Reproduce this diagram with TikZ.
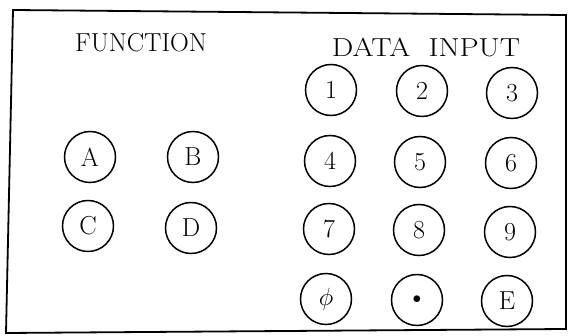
\documentclass[tikz,border=0pt]{standalone}
\usepackage{graphicx}
\begin{document}
\begin{tikzpicture}[x=1pt,y=-1pt,
  key/.style={draw, circle, line width=1.5pt, minimum size=51pt, inner sep=0pt,
    font=\fontsize{26}{29}\selectfont},
  heading/.style={font=\fontsize{26}{29}\selectfont, inner sep=0pt, anchor=base}]
\useasboundingbox (0,0) rectangle (568,336);
\draw[line width=1.8pt] (13,10) -- (566,15) -- (566,329) -- (6,333) -- cycle;
\node[heading] (fn) at (141,52) {FUNCTION};
\node[heading] (di) at (426,57) {\scalebox{1.17}[1]{DATA\hspace{0.6em}INPUT}};
\node[key] (kA) at (90,157) {A};
\node[key] (kB) at (193,157) {B};
\node[key] (kC) at (88,226) {C};
\node[key] (kD) at (191,228) {D};
\node[key] (k1) at (331,90) {1};
\node[key] (k2) at (422,91) {2};
\node[key] (k3) at (512,93) {3};
\node[key] (k4) at (330,161) {4};
\node[key] (k5) at (420,162) {5};
\node[key] (k6) at (511,163) {6};
\node[key] (k7) at (329,229) {7};
\node[key] (k8) at (419,230) {8};
\node[key] (k9) at (510,232) {9};
\node[key] (k0) at (326,299) {$\phi$};
\node[key] (kp) at (417,300) {\fontsize{18}{20}\selectfont$\bullet$};
\node[key] (kE) at (507,301) {E};
\end{tikzpicture}
\end{document}
